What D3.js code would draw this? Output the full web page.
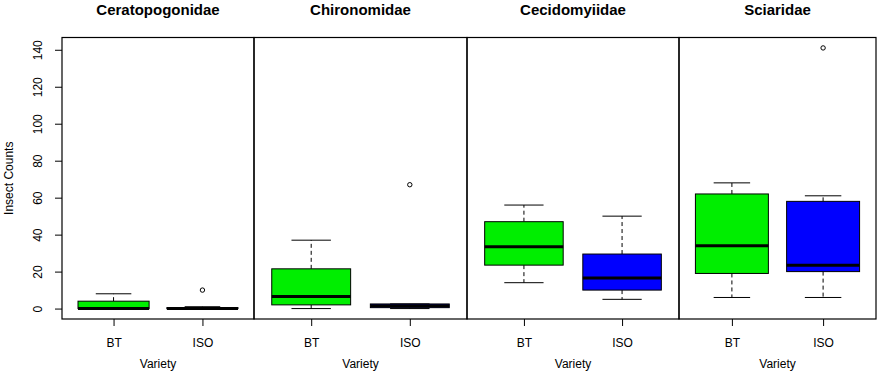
<!DOCTYPE html>
<html>
<head>
<meta charset="utf-8">
<script src="https://cdn.jsdelivr.net/npm/d3@7"></script>
<style>
  body { margin: 0; background: #fff; }
  svg { display: block; font-family: "Liberation Sans", Arial, sans-serif; }
</style>
</head>
<body>
<svg id="chart" width="877" height="380"></svg>
<script>
// data (box stats per family, BT then ISO)
const families = ["Ceratopogonidae", "Chironomidae", "Cecidomyiidae", "Sciaridae"];
const varieties = ["BT", "ISO"];
const whiskerLow    = [[0, 0],   [0, 0],     [14, 5],    [6, 6]];
const lowerHinge    = [[0, 0],   [2, 0.5],   [23.5, 10], [19, 20]];
const medians       = [[0, 0],   [6.5, 1.5], [33.5, 16.5], [34, 23.5]];
const upperHinge    = [[4, 0.5], [21.5, 2.5], [47, 29.5], [62, 58]];
const whiskerHigh   = [[8, 1],   [37, 2.5],  [56, 50],   [68, 61]];
const outliers      = [[[], [10]], [[], [67]], [[], []], [[], [141]]];
const yTicks = [0, 20, 40, 60, 80, 100, 120, 140];
const boxColors = ["#00ee00", "#0000ff"];

const svg = d3.select("#chart");
const plotTop = 37.5, plotBottom = 319;
const panelEdges = [62, 254, 467, 679, 876];
const labelSize = "12px";

// shared y scale, R style 4% padding around 0..141
const yMin = 0, yMax = 141, pad = (yMax - yMin) * 0.04;
const y = d3.scaleLinear().domain([yMin - pad, yMax + pad]).range([plotBottom, plotTop]);

// y axis on first panel
const yAxis = svg.append("g")
  .attr("transform", "translate(" + panelEdges[0] + ",0)")
  .call(d3.axisLeft(y).tickValues(yTicks).tickSize(7).tickSizeOuter(0));
yAxis.select(".domain").remove();
yAxis.selectAll("line").attr("stroke", "#000");
yAxis.selectAll("text")
  .attr("transform", "rotate(-90)")
  .attr("x", 0).attr("y", -20).attr("dy", 0)
  .attr("text-anchor", "middle")
  .style("font-size", labelSize)
  .attr("fill", "#000");
yAxis.attr("font-family", null).attr("font-size", null);

svg.append("text")
  .attr("transform", "translate(13," + ((plotTop + plotBottom) / 2) + ") rotate(-90)")
  .attr("text-anchor", "middle")
  .style("font-size", labelSize)
  .text("Insect Counts");

families.forEach((fam, i) => {
  const left = panelEdges[i], right = panelEdges[i + 1];
  const x = d3.scaleLinear().domain([0.42, 2.58]).range([left, right]);
  const unit = x(1) - x(0);
  const halfBox = 0.4 * unit, halfCap = 0.2 * unit;
  const g = svg.append("g");

  // title
  g.append("text")
    .attr("x", (left + right) / 2).attr("y", 14.5)
    .attr("text-anchor", "middle")
    .style("font-size", "15px").style("font-weight", "bold")
    .text(fam);

  // x axis
  const xAxis = g.append("g")
    .attr("transform", "translate(0," + plotBottom + ")")
    .call(d3.axisBottom(x).tickValues([1, 2]).tickFormat((d) => varieties[d - 1]).tickSize(7));
  xAxis.select(".domain").remove();
  xAxis.selectAll("line").attr("stroke", "#000");
  xAxis.selectAll("text")
    .attr("y", 28).attr("dy", 0)
    .style("font-size", labelSize).attr("fill", "#000");
  xAxis.attr("font-family", null).attr("font-size", null);

  g.append("text")
    .attr("x", (left + right) / 2).attr("y", 368)
    .attr("text-anchor", "middle")
    .style("font-size", labelSize)
    .text("Variety");

  const boxes = varieties.map((v, j) => ({
    pos: j + 1,
    lo: whiskerLow[i][j], q1: lowerHinge[i][j], med: medians[i][j],
    q3: upperHinge[i][j], hi: whiskerHigh[i][j], out: outliers[i][j], color: boxColors[j]
  }));

  boxes.forEach((b) => {
    const cx = x(b.pos);
    // whiskers (dashed)
    g.append("line").attr("x1", cx).attr("x2", cx).attr("y1", y(b.q3)).attr("y2", y(b.hi))
      .attr("stroke", "#000").attr("stroke-dasharray", "4,3");
    g.append("line").attr("x1", cx).attr("x2", cx).attr("y1", y(b.q1)).attr("y2", y(b.lo))
      .attr("stroke", "#000").attr("stroke-dasharray", "4,3");
    // staples
    [b.lo, b.hi].forEach((s) => {
      g.append("line").attr("x1", cx - halfCap).attr("x2", cx + halfCap)
        .attr("y1", y(s)).attr("y2", y(s)).attr("stroke", "#000");
    });
    // box
    g.append("rect")
      .attr("x", cx - halfBox).attr("width", 2 * halfBox)
      .attr("y", y(b.q3)).attr("height", Math.max(0, y(b.q1) - y(b.q3)))
      .attr("fill", b.color).attr("stroke", "#000").attr("stroke-width", 1);
    // median
    g.append("line").attr("x1", cx - halfBox).attr("x2", cx + halfBox)
      .attr("y1", y(b.med)).attr("y2", y(b.med))
      .attr("stroke", "#000").attr("stroke-width", 3);
    // outliers
    g.selectAll(null).data(b.out).enter().append("circle")
      .attr("cx", cx).attr("cy", (d) => y(d)).attr("r", 2.2)
      .attr("fill", "none").attr("stroke", "#000").attr("stroke-width", 1);
  });

  // panel frame
  g.append("rect")
    .attr("x", left).attr("y", plotTop)
    .attr("width", right - left).attr("height", plotBottom - plotTop)
    .attr("fill", "none").attr("stroke", "#000").attr("stroke-width", 1.2);
});
</script>
</body>
</html>
